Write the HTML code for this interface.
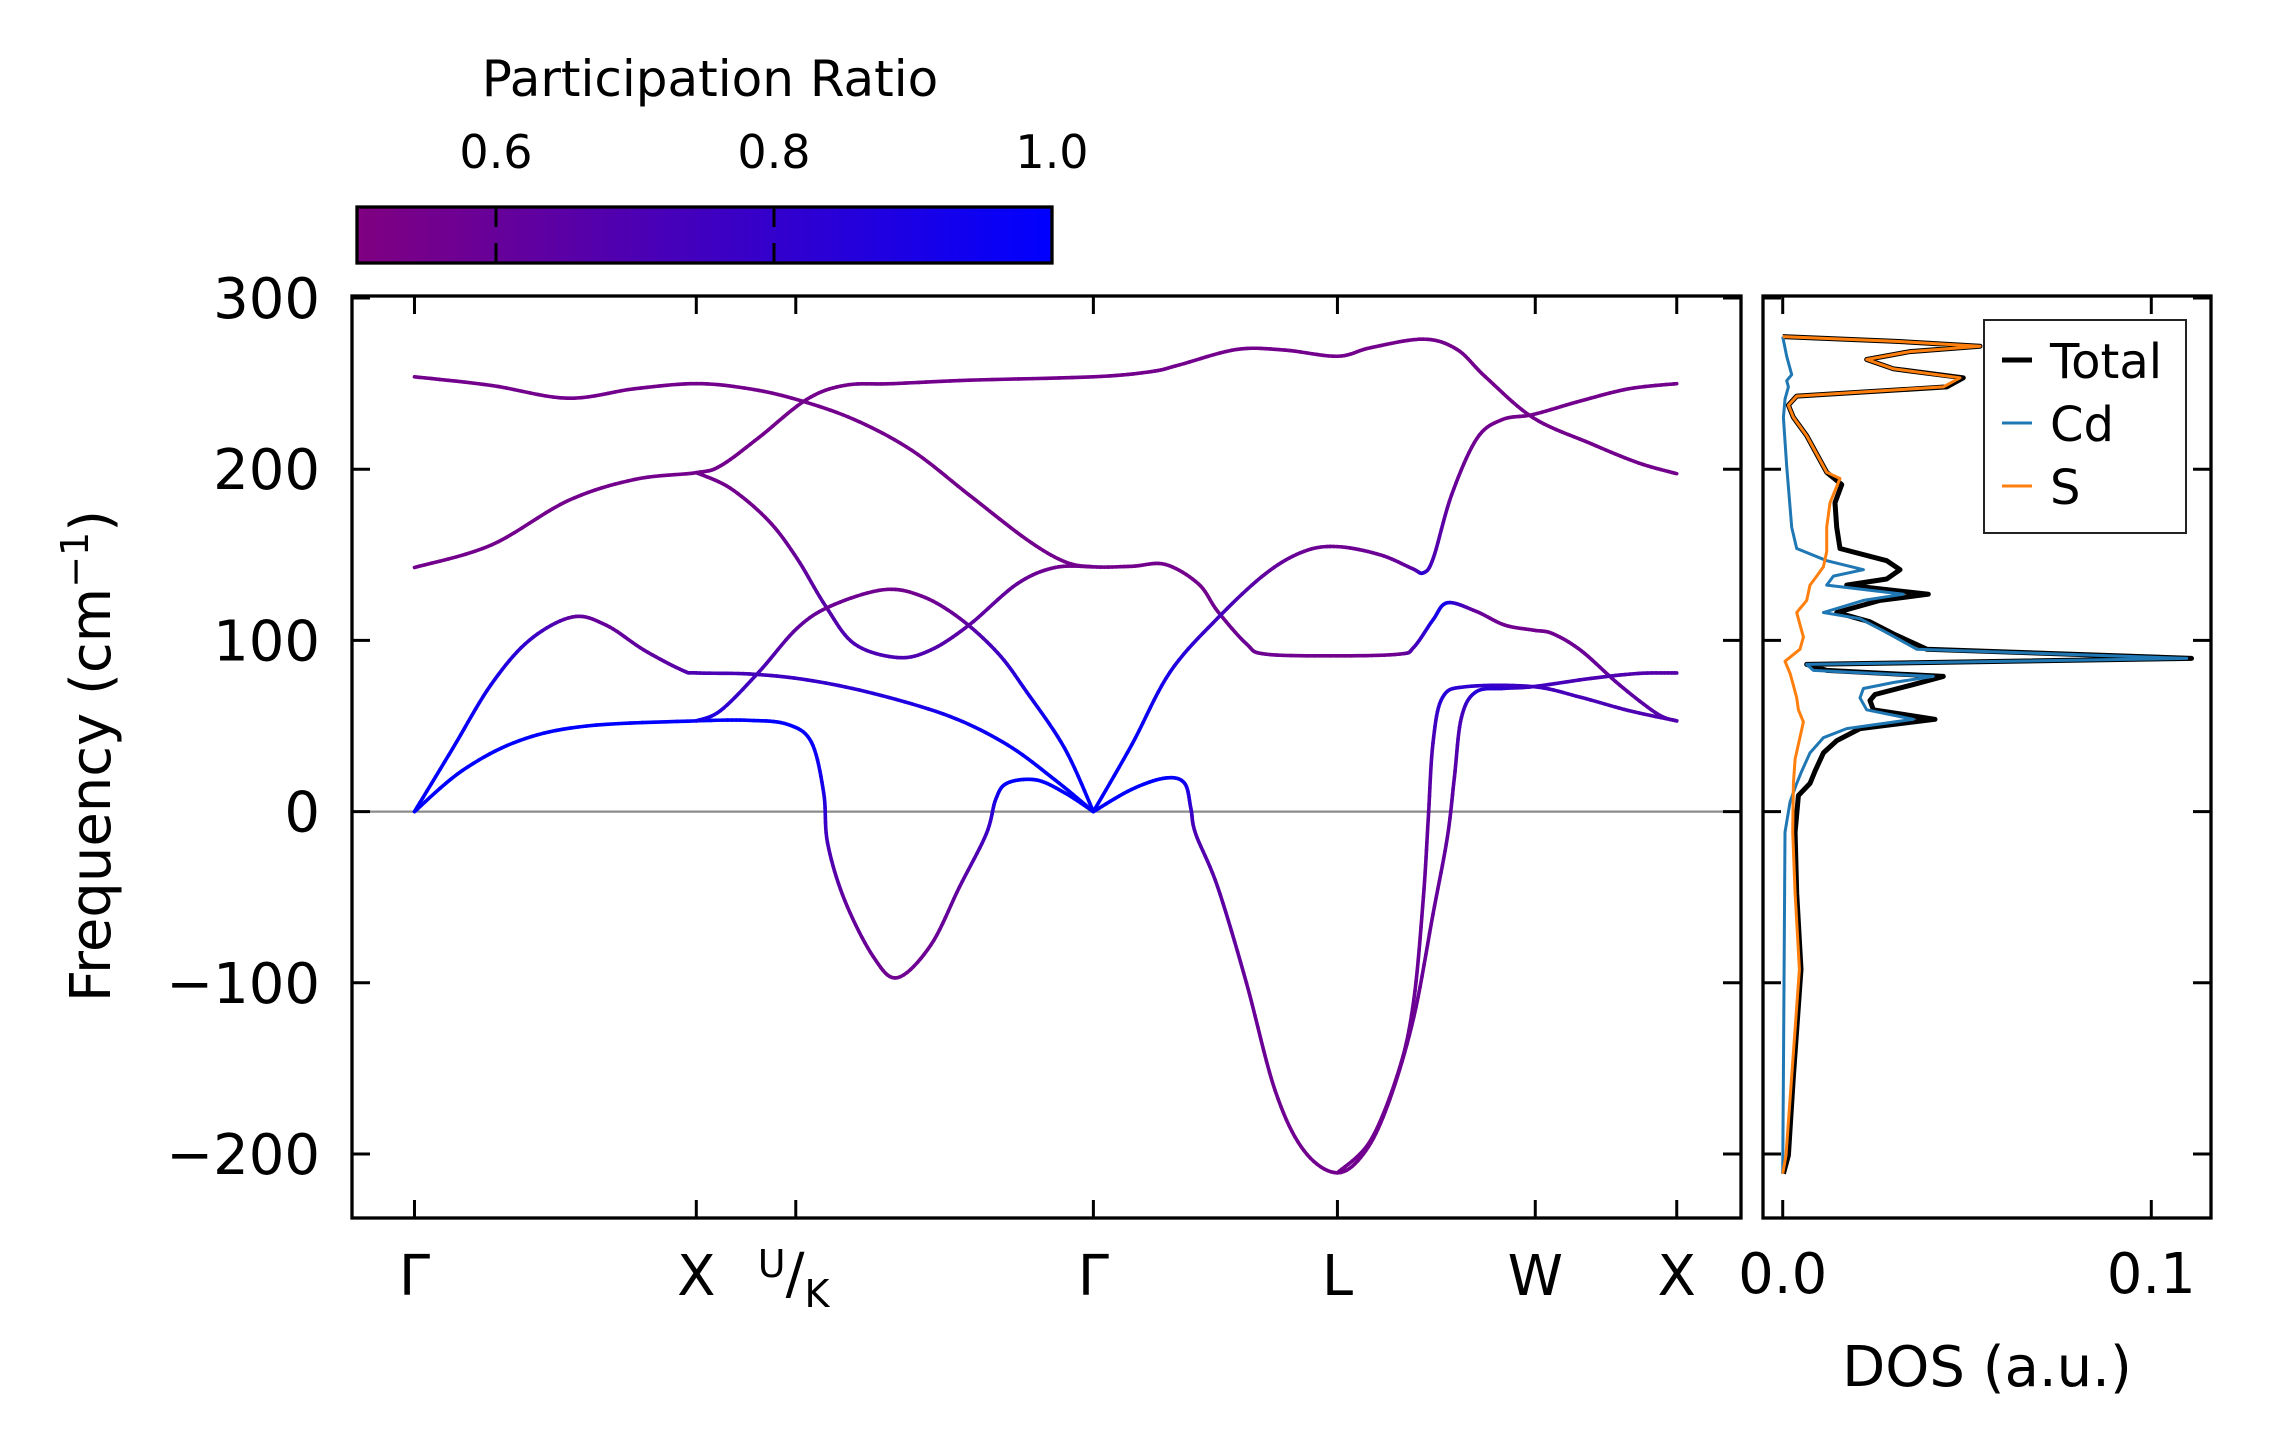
<!DOCTYPE html>
<html><head><meta charset="utf-8">
<style>
html,body{margin:0;padding:0;background:#fff;}
svg{display:block;}
text{font-family:"DejaVu Sans","Liberation Sans",sans-serif;fill:#000;}
</style></head>
<body>
<svg id="fig" xmlns="http://www.w3.org/2000/svg" width="2271" height="1455" viewBox="0 0 2271 1455">
<rect x="0" y="0" width="2271" height="1455" fill="#fff"/>
<g id="bands"></g>
<g id="dos"></g>
<g id="axes"></g>
</svg>
<script>
// ---------- data ----------
const kLabels = ["Γ","X","U/K","Γ","L","W","X"];
const kTicks = [0, 1.0, 1.353, 2.409, 3.275, 3.977, 4.479];
const yTicks = [300, 200, 100, 0, -100, -200];
const yTickLabels = ["300","200","100","0","\u2212100","\u2212200"];
const dosTicks = [0.0, 0.1];
const dosTickLabels = ["0.0","0.1"];
const cbTicks = [0.6, 0.8, 1.0];
const cbTickLabels = ["0.6","0.8","1.0"];

const bandK = [
 [0,.271,.543,.780,1.0,1.188,1.357,1.561,1.765,1.968,2.172,2.307,2.409,2.545,2.664,2.782,2.850,2.952,3.020,3.275,3.495,3.546,3.614,3.665,3.767,3.868,3.970,4.038,4.140,4.276,4.411,4.479],
 [0,.271,.543,.780,1.0,1.086,1.222,1.391,1.527,1.697,1.968,2.409,2.613,2.715,2.918,3.088,3.275,3.393,3.580,3.699,3.800,3.970,4.174,4.343,4.479],
 [1.0,1.120,1.256,1.357,1.459,1.561,1.714,1.832,1.968,2.138,2.273,2.409],
 [2.409,2.545,2.681,2.850,3.020,3.156,3.275,3.427,3.540,3.580,3.615,3.680,3.770,3.860,3.970,4.140,4.309,4.479],
 [0,.136,.271,.407,.560,.679,.814,.950,1.0,1.188,1.391,1.629,1.900,2.104,2.273,2.409],
 [0,.170,.373,.611,1.0,1.188,1.323,1.408,1.452,1.466,1.527,1.629,1.714,1.832,1.934,2.029,2.063,2.104,2.206,2.307,2.409],
 [1.0,1.086,1.222,1.357,1.476,1.663,1.798,1.934,2.070,2.172,2.307,2.409],
 [2.409,2.545,2.664,2.732,2.755,2.772,2.850,2.952,3.054,3.156,3.275,3.376,3.461,3.546,3.614,3.665,3.690,3.715,3.767,3.868,3.970,4.174,4.343,4.479],
 [3.275,3.393,3.495,3.546,3.580,3.597,3.614,3.648,3.733,3.970,4.140,4.309,4.479]
];
const bandFreq = [
 [254,249,241.5,247,250,247,240.7,229,211,185,159,146,143,143.3,144.4,133,117,98,92,91,92,96,112,122,117,109,106,104,94,74,57,53],
 [142.6,155.6,181.5,194,198,202,218.5,240.7,249,250,252,254,257,261,270,269.6,266,271,276,270,254,230,215,203.7,197.4],
 [198,189,170,148,120,98,90,94.4,109,133,142.6,143],
 [0,39,81.5,113,139,152,154.8,150,142,139.5,148,185,218,229,232,240,247,250],
 [0,37,74,100,113.7,109,94.4,82.6,81,80.4,77,69,55.6,39,18.5,0],
 [0,24,41.5,50,53,53.3,51,40.7,11,-18.5,-52,-85,-97,-78,-44,-13,7.4,16.7,18.5,11,0],
 [53,59,81.5,107,120,129.6,126,113,92.6,70,37,0],
 [0,13,19.6,16.7,1.8,-13,-44,-100,-163,-198,-211,-198,-168,-120,-60,-15,20,55,70,72,73,77.8,80.7,81],
 [-211,-192,-150,-110,-50,-5,40,66.7,73,73,66.7,59,53]
];
const bandPR = [
 [.55,.55,.55,.55,.55,.55,.55,.55,.55,.55,.55,.55,.55,.55,.55,.55,.56,.58,.57,.55,.57,.7,.9,.92,.6,.56,.56,.56,.58,.62,.66,.7],
 [.55,.55,.55,.55,.55,.55,.55,.55,.55,.55,.55,.55,.55,.55,.55,.55,.55,.55,.55,.55,.55,.55,.55,.55,.55],
 [.55,.55,.56,.6,.66,.7,.7,.68,.64,.6,.56,.55],
 [1,.98,.9,.75,.62,.58,.57,.58,.62,.85,.7,.6,.56,.55,.55,.55,.55,.55],
 [1,.98,.92,.8,.62,.6,.62,.66,.7,.72,.78,.85,.93,.97,1,1],
 [1,1,1,1,1,1,1,.97,.9,.72,.62,.58,.56,.58,.62,.75,.9,1,1,1,1],
 [.95,.85,.72,.62,.58,.56,.56,.6,.75,.9,.97,1],
 [1,1,1,.95,.8,.7,.65,.6,.57,.56,.55,.56,.57,.58,.6,.62,.65,.72,.85,.82,.75,.7,.68,.66],
 [.55,.56,.57,.58,.6,.62,.7,.85,.82,.75,.72,.7,.68]
];

// DOS (frequency in cm-1, DOS in units of 1e-3)
const totalFreq = [-211.5,-200.8,-154.5,-92.1,-47.6,-12,9.4,16.5,23.6,34.3,41.4,48.5,53.9,59.5,64.9,68.4,73.7,79,82.5,86,89.5,94.9,98.5,103.8,110.9,116.3,123.4,127,132.3,135.9,141.3,146.6,153.7,166.1,180.4,191,198.2,208.9,219.6,230.3,237.4,242.7,248.1,253.4,258.7,264.1,268.7,271.9,274.8,277.5];
const totalDos = [0.18,1.54,2.89,4.97,3.80,3.35,4.25,7.41,8.77,11.03,14.65,20.97,41.32,24.59,23.69,25.04,34.54,43.58,11.93,6.51,110.9,39.06,35.44,30.02,23.69,14.65,26.40,39.51,17.36,28.21,31.82,28.21,15.55,14.65,14.19,16.0,11.93,9.22,6.51,2.89,1.54,3.80,44.48,49.0,30.02,22.78,34.54,53.52,30.02,0];
const cdFreq = [-211.5,-154.5,-12,5.8,16.5,23.6,34.3,43.2,48.5,53.9,59.5,66.4,71.9,75.4,79,82.5,86,89.5,94.9,100.3,105.6,112.7,116.3,123.4,127,132.3,137.6,141.3,146.6,153.7,166.1,201.7,230.3,240.9,248.1,251.7,255.2,266,277.5];
const cdDos = [0,0.18,0.63,1.99,3.80,5.15,7.41,11.03,17.36,35.44,22.78,20.97,21.88,30.02,40.86,8.32,6.51,109.6,36.34,31.82,27.30,20.97,11.03,21.88,32.73,11.93,13.74,21.88,11.93,3.80,2.44,1.08,0.18,0.63,1.54,1.08,2.44,1.08,0];
const sFreq = [-211.5,-200.8,-154.5,-92.1,-47.6,-12,16.5,30.7,52.4,59.5,66.4,73.7,80.7,87.8,94.9,102,109.2,116.3,123.4,132.3,137.6,143,151.9,166.1,180.4,194.6,198.2,208.9,219.6,230.3,237.4,242.7,248.1,253.4,258.7,264.1,268.7,271.9,274.8,277.5];
const sDos = [0,0.9,2.44,4.52,3.35,2.71,2.89,3.35,5.61,4.25,3.80,2.89,1.99,0.63,4.70,5.61,4.70,3.80,6.51,7.41,9.22,11.03,11.93,11.93,12.84,15.55,11.93,9.22,6.51,2.89,1.54,3.80,43.58,48.10,30.02,22.78,34.54,53.52,30.02,0];

// ---------- scales ----------
const P = {l:352, r:1741, t:296, b:1218};
const D = {l:1763, r:2211, t:296, b:1218};
const kMin = -0.2217, kMax = 4.707;
const fMin = -237.4, fMax = 301.2;
const dMin = -0.00535, dMax = 0.1162;
function xK(k){ return P.l + (k-kMin)/(kMax-kMin)*(P.r-P.l); }
function yF(f){ return P.t + (fMax-f)/(fMax-fMin)*(P.b-P.t); }
function xD(d){ return D.l + (d-dMin)/(dMax-dMin)*(D.r-D.l); }
function prColor(p){
  let t=(p-0.5)/0.5; t=Math.max(0,Math.min(1,t));
  const r=Math.round(128*(1-t)), b=Math.round(128+127*t);
  return "rgb("+r+",0,"+b+")";
}
const NS="http://www.w3.org/2000/svg";
function mk(tag, attrs, parent){
  const e=document.createElementNS(NS,tag);
  for(const a in attrs) e.setAttribute(a, attrs[a]);
  parent.appendChild(e); return e;
}

// ---------- bands ----------
const gB=document.getElementById("bands");
function catmull(p0,p1,p2,p3,t){
  const t2=t*t,t3=t2*t;
  return 0.5*((2*p1)+(-p0+p2)*t+(2*p0-5*p1+4*p2-p3)*t2+(-p0+3*p1-3*p2+p3)*t3);
}
const zl=mk("line",{x1:P.l,x2:P.r,y1:yF(0),y2:yF(0),stroke:"#8c8c8c","stroke-width":2.2},gB);


for(let b=0;b<bandK.length;b++){
  const g=mk("g",{},gB);
  
  
  const K=bandK[b],F=bandFreq[b],R=bandPR[b],n=K.length;
  const px=K.map(xK), py=F.map(yF);
  for(let i=0;i<n-1;i++){
    const i0=Math.max(0,i-1), i3=Math.min(n-1,i+2);
    const steps=10;
    let prevX=px[i], prevY=py[i];
    for(let s=1;s<=steps;s++){
      const t=s/steps;
      const x=catmull(px[i0],px[i],px[i+1],px[i3],t);
      const y=catmull(py[i0],py[i],py[i+1],py[i3],t);
      const pr=R[i]+(R[i+1]-R[i])*(t-0.5/steps);
      const seg=mk("line",{x1:prevX,y1:prevY,x2:x,y2:y,stroke:prColor(pr),"stroke-width":3.6,"stroke-linecap":"round"},g);
      
      
      prevX=x; prevY=y;
    }
  }
}

// ---------- DOS ----------
const gD=document.getElementById("dos");
function dosLine(F,V,color,w,name){
  const pts=F.map((f,i)=>xD(V[i]/1000).toFixed(1)+","+yF(f).toFixed(1)).join(" ");
  const pl=mk("polyline",{points:pts,fill:"none",stroke:color,"stroke-width":w,"stroke-linejoin":"round"},gD);
  
  
}
dosLine(totalFreq,totalDos,"#000",5,"dos-total-line");
dosLine(cdFreq,cdDos,"#1f77b4",3,"dos-cd-line");
dosLine(sFreq,sDos,"#ff7f0e",3,"dos-s-line");

// ---------- axes ----------
const gA=document.getElementById("axes");
function frame(R,name){
  const r=mk("rect",{x:R.l,y:R.t,width:R.r-R.l,height:R.b-R.t,fill:"none",stroke:"#000","stroke-width":3.3},gA);
  
  
}
frame(P,"band-plot-frame");
frame(D,"dos-plot-frame");
const TL=18;
function tick(x1,y1,x2,y2){
  const t=mk("line",{x1:x1,y1:y1,x2:x2,y2:y2,stroke:"#000","stroke-width":3},gA);
  
  
}
function txt(x,y,s,size,anchor,name){
  const t=mk("text",{x:x,y:y,"font-size":size,"text-anchor":anchor||"middle"},gA);
  t.textContent=s;
  
  
  return t;
}
kTicks.forEach((k,i)=>{
  const x=xK(k);
  tick(x,P.b,x,P.b-TL); tick(x,P.t,x,P.t+TL);
  if(kLabels[i]==="U/K"){
    const t=mk("text",{x:x-38,y:1293,"font-size":56},gA);
    
    
    const a=mk("tspan",{"font-size":38,dy:-16},t); a.textContent="U";
    const b2=mk("tspan",{"font-size":56,dy:16},t); b2.textContent="/";
    const c=mk("tspan",{"font-size":38,dy:14},t); c.textContent="K";
  } else {
    txt(x,1295,kLabels[i],56,"middle","x-tick-label");
  }
});
yTicks.forEach((v,i)=>{
  const y=yF(v);
  tick(P.l,y,P.l+TL,y); tick(P.r,y,P.r-TL,y);
  tick(D.l,y,D.l+TL,y); tick(D.r,y,D.r-TL,y);
  txt(320,y+20,yTickLabels[i],56,"end","y-tick-label");
});
dosTicks.forEach((d,i)=>{
  const x=xD(d);
  tick(x,D.b,x,D.b-TL); tick(x,D.t,x,D.t+TL);
  txt(x,1293,dosTickLabels[i],56,"middle","dos-tick-label");
});
const yl=mk("text",{x:0,y:0,"font-size":56,"text-anchor":"middle",transform:"translate(110,756) rotate(-90)"},gA);


const y1=mk("tspan",{},yl); y1.textContent="Frequency (cm";
const y2=mk("tspan",{"font-size":38,dy:-22},yl); y2.textContent="\u22121";
const y3=mk("tspan",{dy:22},yl); y3.textContent=")";
txt(1987,1386,"DOS (a.u.)",56,"middle","dos-axis-title");

const CB={l:357,r:1052,t:207,b:263};
const defs=mk("defs",{},document.getElementById("fig"));
const lg=mk("linearGradient",{id:"cbg",x1:"0",x2:"1",y1:"0",y2:"0"},defs);
mk("stop",{offset:"0","stop-color":prColor(0.5)},lg);
mk("stop",{offset:"1","stop-color":prColor(1.0)},lg);
const cbr=mk("rect",{x:CB.l,y:CB.t,width:CB.r-CB.l,height:CB.b-CB.t,fill:"url(#cbg)",stroke:"#000","stroke-width":3.3},gA);


function xCB(v){ return CB.l+(v-0.5)/0.5*(CB.r-CB.l); }
cbTicks.forEach((v,i)=>{
  const x=xCB(v);
  if(v<1){ tick(x,CB.t,x,CB.t+20); tick(x,CB.b,x,CB.b-20); }
  txt(x,168,cbTickLabels[i],46,"middle","colorbar-tick-label");
});
txt(710,96,"Participation Ratio",50,"middle","colorbar-title");

const lgBox=mk("rect",{x:1984,y:320,width:202,height:213,fill:"#fff",stroke:"#222","stroke-width":2},gA);


const legNames=["Total","Cd","S"], legColors=["#000","#1f77b4","#ff7f0e"], legW=[5,3,3], legY=[360,423,486];
legNames.forEach((n,i)=>{
  const l=mk("line",{x1:2002,x2:2032,y1:legY[i],y2:legY[i],stroke:legColors[i],"stroke-width":legW[i]},gA);
  
  
  txt(2050,legY[i]+18,n,48,"start","legend-entry-"+n.toLowerCase());
});
</script>
</body></html>
